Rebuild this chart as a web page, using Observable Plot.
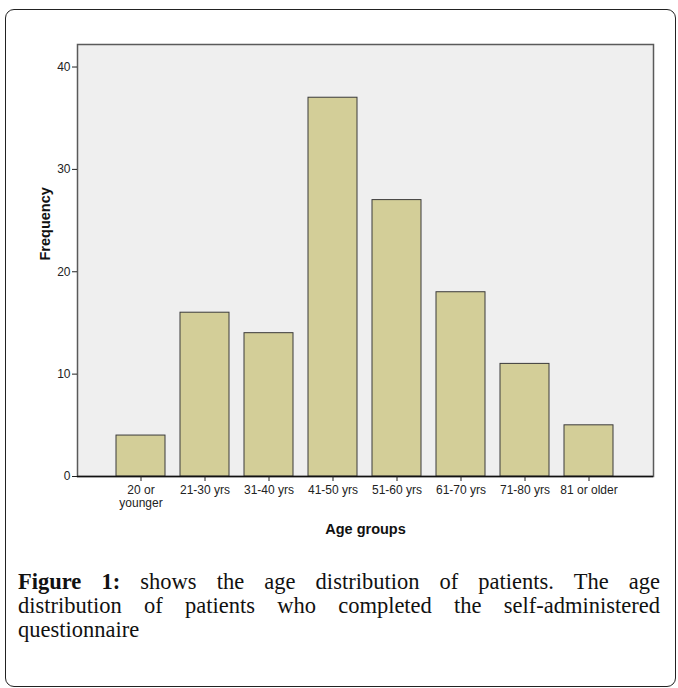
<!DOCTYPE html>
<html>
<head>
<meta charset="utf-8">
<script src="https://cdn.jsdelivr.net/npm/d3@7"></script>
<script src="https://cdn.jsdelivr.net/npm/@observablehq/plot@0.6"></script>
<style>
  html, body { margin: 0; padding: 0; background: #fff; }
  #page { position: relative; width: 678px; height: 688px; overflow: hidden; }
  #box { position: absolute; left: 5px; top: 9px; width: 669px; height: 676px;
         border: 1.5px solid #222; border-radius: 9px; }
  #chart { position: absolute; left: 0; top: 0; }
  #caption { position: absolute; left: 18px; width: 642px; top: 570px;
             font-family: "Liberation Serif", "DejaVu Serif", serif; font-size: 22.5px;
             line-height: 24px; color: #111; }
  #caption .j { text-align: justify; text-align-last: justify; }
  #caption b { font-weight: bold; }
</style>
</head>
<body>
<div id="page">
  <div id="box"></div>
  <div id="chart"></div>
  <div id="caption">
    <div class="j"><b>Figure 1:</b> shows the age distribution of patients. The age</div>
    <div class="j">distribution of patients who completed the self-administered</div>
    <div>questionnaire</div>
  </div>
</div>
<script>
const groups = ["20 or\nyounger", "21-30 yrs", "31-40 yrs", "41-50 yrs", "51-60 yrs", "61-70 yrs", "71-80 yrs", "81 or older"];
const counts = [4, 16, 14, 37, 27, 18, 11, 5];
const yTicks = [0, 10, 20, 30, 40];

const data = groups.map((g, i) => ({group: g, count: counts[i]}));

const chart = Plot.plot({
  width: 678,
  height: 560,
  marginLeft: 77,
  marginRight: 25,
  marginTop: 44,
  marginBottom: 84,
  style: {fontFamily: "'Liberation Sans', Arial, sans-serif", fontSize: "12px", color: "#222", background: "transparent"},
  x: {domain: groups, paddingInner: 0.23, paddingOuter: 0.546},
  y: {domain: [0, 42.2]},
  marks: [
    Plot.frame({fill: "#efefef", stroke: "#5a5a5a", strokeWidth: 1.5}),
    Plot.barY(data, {x: "group", y: "count", fill: "#d3ce98", stroke: "#3a3a3a", strokeWidth: 1}),
    Plot.ruleY([0], {stroke: "#111", strokeWidth: 1.5}),
    Plot.axisY({ticks: yTicks, tickSize: 5, tickPadding: 2, label: null, fontSize: 12}),
    Plot.axisX({tickSize: 5, tickPadding: 3, label: null, fontSize: 12, lineHeight: 1.1}),
    Plot.text(["Frequency"], {frameAnchor: "left", dx: -32, rotate: -90, fontWeight: "bold", fontSize: 14.5, fill: "#111"}),
    Plot.text(["Age groups"], {frameAnchor: "bottom", dy: 57, fontWeight: "bold", fontSize: 14.5, fill: "#111"})
  ]
});
document.getElementById("chart").appendChild(chart);
</script>
</body>
</html>
